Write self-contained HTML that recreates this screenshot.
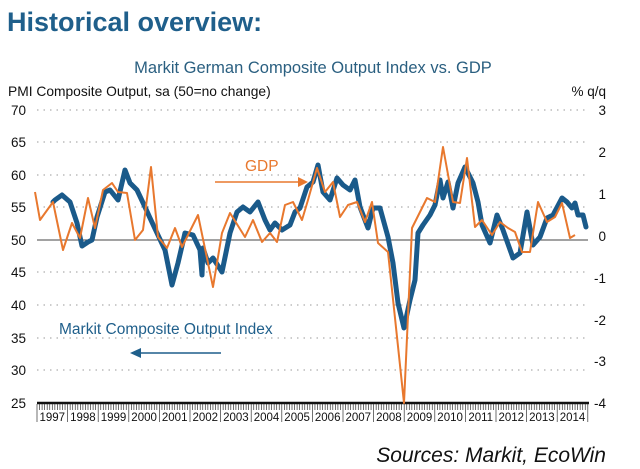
<!DOCTYPE html>
<html><head><meta charset="utf-8"><style>
body{margin:0;background:#fff;}
svg{display:block;font-family:"Liberation Sans",sans-serif;}
</style></head><body>
<svg width="640" height="469" viewBox="0 0 640 469" xmlns="http://www.w3.org/2000/svg">
<text x="7" y="31" font-size="27" font-weight="bold" fill="#1f5f8b">Historical overview:</text>
<text x="313" y="73" font-size="16.5" fill="#2a5f80" text-anchor="middle">Markit German Composite Output Index vs. GDP</text>
<text x="8" y="96" font-size="13.8" fill="#111">PMI Composite Output, sa (50=no change)</text>
<text x="606" y="96" font-size="13.5" fill="#111" text-anchor="end">% q/q</text>
<g stroke="#999" stroke-width="1" stroke-dasharray="1.5,5">
<line x1="37" y1="110" x2="588" y2="110"/><line x1="37" y1="142" x2="588" y2="142"/>
<line x1="37" y1="175" x2="588" y2="175"/><line x1="37" y1="207" x2="588" y2="207"/>
<line x1="37" y1="272" x2="588" y2="272"/><line x1="37" y1="305" x2="588" y2="305"/>
<line x1="37" y1="338" x2="588" y2="338"/><line x1="37" y1="370" x2="588" y2="370"/>
</g>
<line x1="37" y1="240" x2="588" y2="240" stroke="#444" stroke-width="1"/>
<g font-size="13.5" fill="#111" text-anchor="end">
<text x="26" y="115">70</text><text x="26" y="147">65</text><text x="26" y="180">60</text><text x="26" y="212">55</text><text x="26" y="245">50</text><text x="26" y="277">45</text><text x="26" y="310">40</text><text x="26" y="343">35</text><text x="26" y="375">30</text><text x="26" y="408">25</text>
</g>
<g font-size="13.5" fill="#111" text-anchor="end">
<text x="606" y="115">3</text><text x="606" y="157">2</text><text x="606" y="199">1</text><text x="606" y="241">0</text><text x="606" y="283">-1</text><text x="606" y="325">-2</text><text x="606" y="366">-3</text><text x="606" y="408">-4</text>
</g>
<line x1="37" y1="403" x2="589" y2="403" stroke="#111" stroke-width="2.5"/>
<g id="ticks" stroke="#333" stroke-width="0.7"></g>
<g id="years" font-size="11.5" fill="#111" text-anchor="middle"></g>
<polyline fill="none" stroke="#1a5a8a" stroke-width="5" stroke-linejoin="round" stroke-linecap="round" points="53,202 55,200 62,195 70,202 77,223 82,246 88,242 92,240 97,217 105,192 110,190 118,200 125,170 130,183 137,190 145,207 150,218 157,233 165,250 172,285 178,263 185,233 193,235 200,250 202,275 203,248 208,263 213,258 222,272 230,233 237,212 243,207 250,212 258,202 265,220 270,230 275,223 282,230 290,225 295,212 300,208 307,187 313,182 318,165 323,192 330,200 337,178 343,185 350,190 355,180 360,207 368,228 373,208 380,208 388,237 393,263 398,303 404,328 410,300 415,280 418,233 423,225 430,215 435,205 440,180 443,198 448,182 453,208 458,183 465,167 473,183 478,202 482,225 490,243 497,215 503,230 513,258 520,253 527,212 533,245 540,237 547,218 553,215 562,198 567,202 572,208 575,203 578,215 583,215 586,227"/>
<polyline fill="none" stroke="#e8782e" stroke-width="2" stroke-linejoin="round" points="35,192 40,220 53,202 63,250 72,223 80,238 88,198 95,228 103,190 112,183 118,192 127,193 135,240 143,230 151,167 158,237 167,248 175,228 182,247 198,215 213,287 222,233 230,213 245,237 253,220 262,242 270,233 277,242 285,205 293,202 302,220 308,200 317,168 325,192 333,182 340,217 348,205 357,202 365,222 372,202 378,243 388,252 404,403 412,228 427,198 435,202 443,147 453,202 460,203 467,158 475,227 482,220 492,235 500,222 508,228 515,232 522,252 530,252 538,202 547,222 555,217 562,203 570,238 575,235"/>
<text x="245" y="171" font-size="15.5" fill="#e8782e">GDP</text>
<line x1="215" y1="182" x2="300" y2="182" stroke="#e8782e" stroke-width="1.5"/>
<polygon points="308,182 298,177 298,187" fill="#e8782e"/>
<text x="59" y="334" font-size="15.5" fill="#1f5f8b">Markit Composite Output Index</text>
<line x1="140" y1="353" x2="221" y2="353" stroke="#1f5f8b" stroke-width="1.5"/>
<polygon points="130,353 141,348 141,358" fill="#1f5f8b"/>
<text x="606" y="462" font-size="21" font-style="italic" fill="#111" text-anchor="end">Sources: Markit, EcoWin</text>
<script>
var t=document.getElementById('ticks'),y=document.getElementById('years'),ns='http://www.w3.org/2000/svg';
var x0=37,w=30.6;
for(var i=0;i<=18*12;i++){var x=x0+i*w/12;var l=document.createElementNS(ns,'line');l.setAttribute('x1',x);l.setAttribute('x2',x);l.setAttribute('y1',404);l.setAttribute('y2',i%12==0?422:410);t.appendChild(l);}
for(var k=0;k<18;k++){var tx=document.createElementNS(ns,'text');tx.setAttribute('x',x0+k*w+w/2);tx.setAttribute('y',421);tx.textContent=1997+k;y.appendChild(tx);}
</script>
</svg>
</body></html>
